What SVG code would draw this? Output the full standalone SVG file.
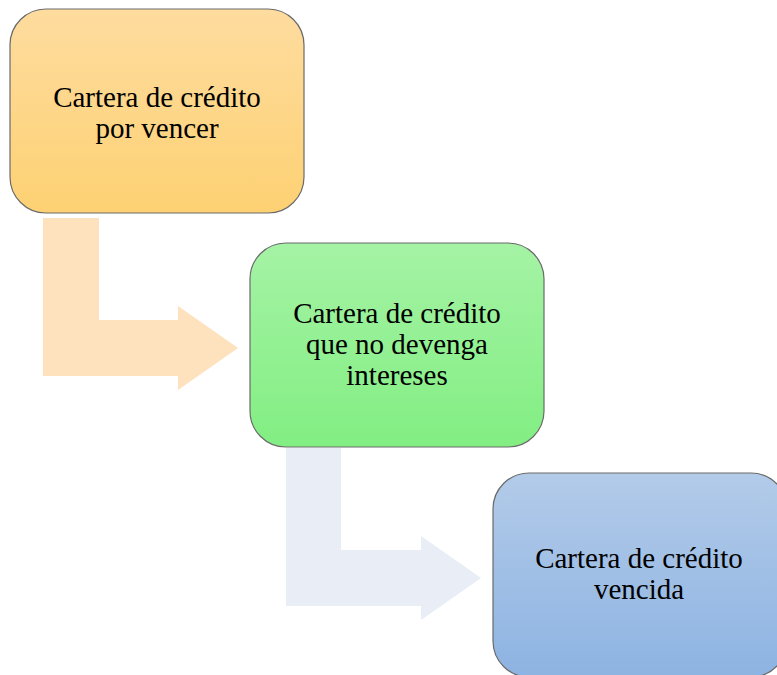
<svg xmlns="http://www.w3.org/2000/svg" width="777" height="675" viewBox="0 0 777 675">
<defs>
<linearGradient id="g1" x1="0" y1="0" x2="0" y2="1"><stop offset="0" stop-color="#FEDC9F"/><stop offset="1" stop-color="#FDD173"/></linearGradient>
<linearGradient id="g2" x1="0" y1="0" x2="0" y2="1"><stop offset="0" stop-color="#A5F3A5"/><stop offset="1" stop-color="#82EE82"/></linearGradient>
<linearGradient id="g3" x1="0" y1="0" x2="0" y2="1"><stop offset="0" stop-color="#B3CBE9"/><stop offset="1" stop-color="#8DB3E2"/></linearGradient>
<style>
.box{stroke:#6a6a6a;stroke-width:1.2}
.t{font-family:"Liberation Serif","Times New Roman",serif;font-size:29px;fill:#000;text-anchor:middle}
</style>
</defs>
<rect width="777" height="675" fill="#fff"/>
<g id="connectors">
<path d="M43,218 H99 V320 H178 V306 L238,348 L178,390 V376 H43 Z" fill="#FEE1BD"/>
<path d="M286,448 H341 V550 H421 V536 L481,578 L421,620 V606 H286 Z" fill="#E9EDF6"/>
</g>
<g id="n1">
<rect class="box" x="10" y="9" width="294" height="204" rx="36" fill="url(#g1)"/>
<text class="t" x="157" y="107">Cartera de crédito</text>
<text class="t" x="157" y="138">por vencer</text>
</g>
<g id="n2">
<rect class="box" x="250" y="243" width="294" height="204" rx="36" fill="url(#g2)"/>
<text class="t" x="397" y="323">Cartera de crédito</text>
<text class="t" x="397" y="354">que no devenga</text>
<text class="t" x="397" y="385">intereses</text>
</g>
<g id="n3">
<rect class="box" x="493" y="473" width="294" height="204" rx="36" fill="url(#g3)"/>
<text class="t" x="639" y="568">Cartera de crédito</text>
<text class="t" x="639" y="599">vencida</text>
</g>
</svg>
